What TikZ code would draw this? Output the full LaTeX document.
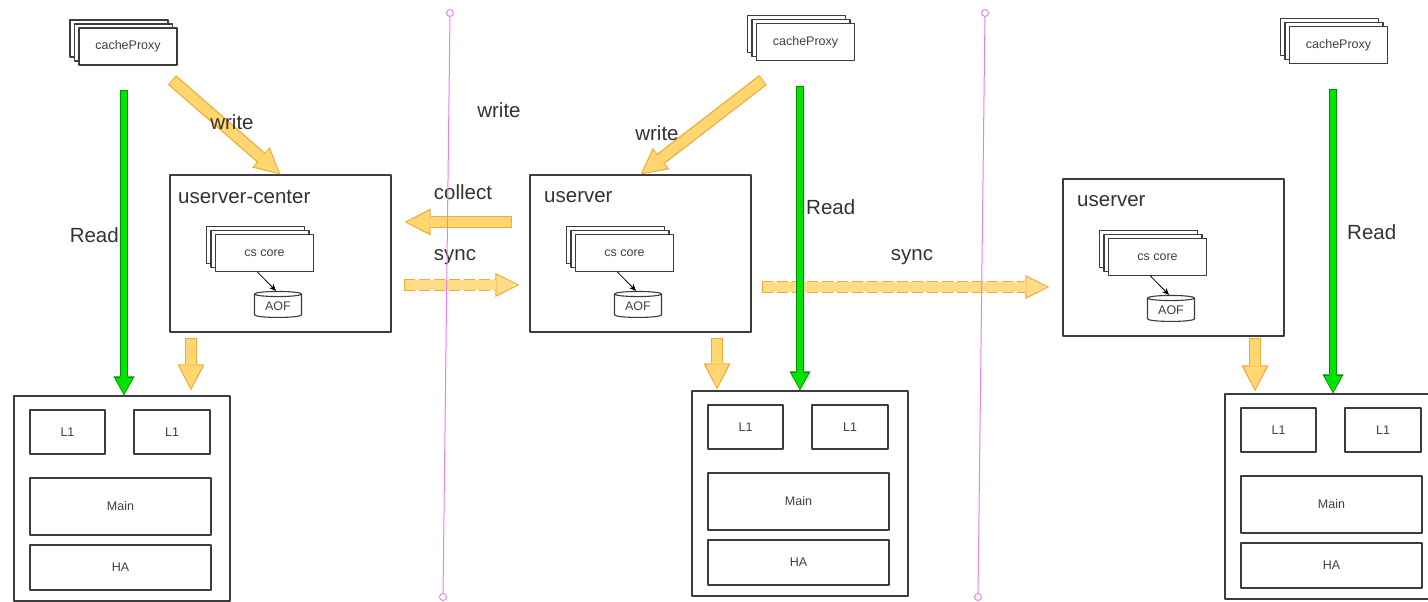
\documentclass[tikz,border=0pt]{standalone}
\usepackage{fontspec}
\setmainfont{Liberation Sans}
\usetikzlibrary{arrows.meta,shapes.geometric,shadows}
\definecolor{orgfill}{RGB}{255,214,112}
\definecolor{orgedge}{RGB}{240,170,55}
\definecolor{grnfill}{RGB}{0,228,0}
\definecolor{grnedge}{RGB}{0,140,0}
\definecolor{sepcol}{RGB}{238,125,238}
\definecolor{boxline}{RGB}{60,60,60}
\def\bigfont{\fontsize{20.5}{24}\selectfont}
\def\tinyfont{\fontsize{12.5}{15}\selectfont}
\tikzset{
  box/.style={draw=boxline, line width=1.1pt, fill=white, inner sep=0pt, font=\tinyfont, text=black!75},
  bigbox/.style={box, drop shadow={shadow xshift=1.2pt, shadow yshift=-1.2pt, opacity=0.3}},
  stack/.style={box, minimum width=98pt, minimum height=37pt,
    double copy shadow={shadow xshift=-4.5pt, shadow yshift=4pt}},
  disk/.style={box, cylinder, shape border rotate=90, aspect=0.2, minimum width=47pt, minimum height=26pt},
  biglabel/.style={inner sep=0pt, font=\bigfont, text=black!80},
  orgarrow/.style={draw=orgfill, line width=10pt, shorten <=1pt, shorten >=#1+2pt,
    -{Triangle[width=23pt, length=23pt, line width=0pt]},
    preaction={draw=orgedge, line width=12.5pt, shorten <=0pt, shorten >=#1,
      -{Triangle[width=27pt, length=26pt, line width=0pt]}}},
  orgarrow/.default=0pt,
  syncarrow/.style={draw=orgfill!85!white, line width=9.5pt, shorten <=1.2pt, shorten >=#1+2pt,
    -{Triangle[width=20pt, length=21pt, line width=0pt]},
    preaction={draw=orgedge, dash pattern=on 11pt off 4pt, line width=12.5pt, shorten <=0pt, shorten >=#1,
      -{Triangle[width=24pt, length=24pt, line width=0pt]}}},
  syncarrow/.default=0pt,
  grnarrow/.style={draw=grnfill, line width=5.5pt, shorten <=0.8pt, shorten >=1.5pt,
    -{Triangle[width=17pt, length=16pt, line width=0pt]},
    preaction={draw=grnedge, line width=7.5pt, shorten <=0pt, shorten >=0pt,
      -{Triangle[width=21pt, length=19pt, line width=0pt]}}},
  sepdot/.style={circle, draw=sepcol, fill=white, line width=0.9pt, minimum size=7pt, inner sep=0pt},
  sepline/.style={draw=sepcol, line width=1pt}
}
\begin{document}
\begin{tikzpicture}[x=1pt, y=-1pt, line join=round, >=stealth]
\clip (0,0) rectangle (1428,602);
% memory blocks
\foreach \n/\x/\y in {1/14/396, 2/692/391, 3/1225/394}{
  \node[bigbox, minimum width=216pt, minimum height=205pt] (mem\n) at (\x+108,\y+102.5) {};
  \node[box, minimum width=75pt, minimum height=44pt] (l1a\n) at (\x+53.5,\y+36) {L1};
  \node[box, minimum width=76pt, minimum height=44pt] (l1b\n) at (\x+158,\y+36) {L1};
  \node[box, minimum width=181pt, minimum height=57pt] (main\n) at (\x+106.5,\y+110.5) {Main};
  \node[box, minimum width=181pt, minimum height=45pt] (ha\n) at (\x+106.5,\y+171.5) {HA};
}
% userver blocks
\foreach \n/\x/\y/\t/\d in {1/170/175/userver-center/8, 2/530/175/userver/14, 3/1063/179/userver/14}{
  \node[bigbox, minimum width=221pt, minimum height=157pt] (us\n) at (\x+110.5,\y+78.5) {};
  \node[biglabel, anchor=west] (name\n) at (\x+\d,\y+22) {\t};
  \node[stack] (core\n) at (\x+94.5,\y+78) {cs core};
  \node[disk] (aof\n) at (\x+108,\y+131) {AOF};
  \draw[line width=0.8pt, -{Stealth[length=7pt, width=6pt]}] ([xshift=-7pt]core\n.south) -- ([xshift=-2pt]aof\n.north);
}
% cache proxies
\node[stack] (cp1) at (128,46.5) {cacheProxy};
\node[stack] (cp2) at (805.5,42) {cacheProxy};
\node[stack] (cp3) at (1338.5,45) {cacheProxy};
% write paths
\coordinate (w1) at (172,80);
\coordinate (w2) at (763,80);
\draw[orgarrow] (w1) -- (us1.north);
\draw[orgarrow] (w2) -- (us2.north);
\coordinate (d1) at (191,338);
\coordinate (d2) at (717,338);
\coordinate (d3) at (1255,338);
\draw[orgarrow=5pt] (d1) -- (d1 |- mem1.north);
\draw[orgarrow=1pt] (d2) -- (d2 |- mem2.north);
\draw[orgarrow=2pt] (d3) -- (d3 |- mem3.north);
\coordinate (c1) at (512,222);
\draw[orgarrow=13pt] (c1) -- (c1 -| us1.east);
\coordinate (s1) at (404,285);
\coordinate (s2) at (762,287);
\draw[syncarrow=10pt] (s1) -- (s1 -| us2.west);
\draw[syncarrow=13pt] (s2) -- (s2 -| us3.west);
\node[biglabel] (wl1) at (232,122) {write};
\node[biglabel] (wl2) at (657,133) {write};
\node[biglabel] (wl0) at (499,110) {write};
\node[biglabel] (cl) at (463,192) {collect};
\node[biglabel] (sl1) at (455,257) {sync};
\node[biglabel] (sl2) at (912,257) {sync};
% read paths
\coordinate (r1) at (124,90);
\coordinate (r2) at (800,86);
\coordinate (r3) at (1333,89);
\foreach \n in {1,2,3} \draw[grnarrow] (r\n) -- (r\n |- mem\n.north);
\node[biglabel, anchor=east] (rd1) at (119,235) {Read};
\node[biglabel, anchor=west] (rd2) at (806,207) {Read};
\node[biglabel, anchor=west] (rd3) at (1347,232) {Read};
% separators
\node[sepdot] (t1) at (450,13) {};
\node[sepdot] (b1) at (443,597) {};
\node[sepdot] (t2) at (985,13) {};
\node[sepdot] (b2) at (978,597) {};
\draw[sepline] (t1) -- (b1);
\draw[sepline] (t2) -- (b2);
\end{tikzpicture}
\end{document}
